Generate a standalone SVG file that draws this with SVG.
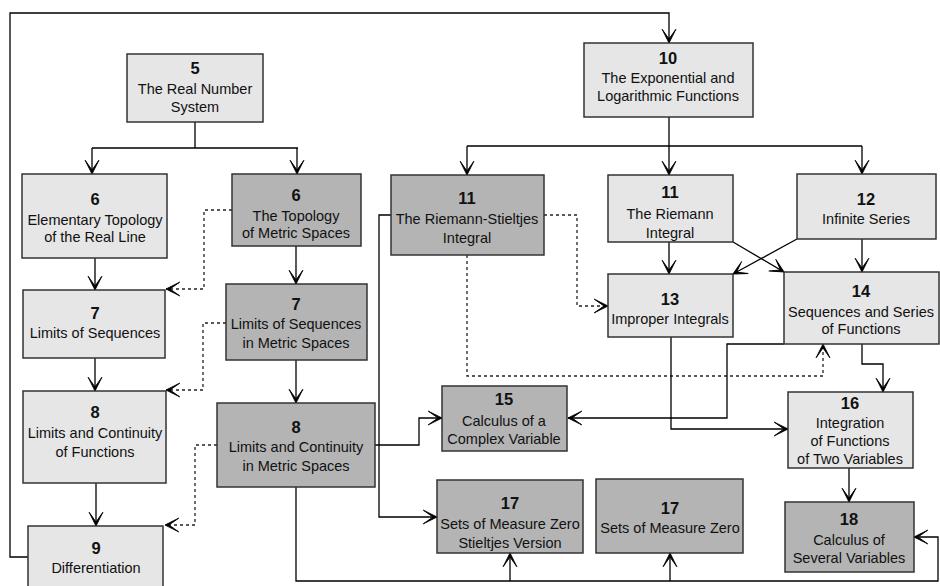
<svg xmlns="http://www.w3.org/2000/svg" width="940" height="586" viewBox="0 0 940 586">
<defs>
<marker id="ar" markerUnits="userSpaceOnUse" markerWidth="16" markerHeight="16" viewBox="-13 -7 14 14" refX="0" refY="0" orient="auto">
<path d="M0,0 L-12,-6 L-3.5,0 L-12,6 Z" fill="#000" stroke="#000" stroke-width="0.8" stroke-linejoin="miter"/>
</marker>
</defs>
<style>
.lt{fill:#e6e6e6;stroke:#333;stroke-width:1.5}
.dk{fill:#b4b4b4;stroke:#333;stroke-width:1.5}
text{font-family:"Liberation Sans",Arial,sans-serif;font-size:14.5px;fill:#111;text-anchor:middle}
.n{font-weight:bold;font-size:16.5px}
.c{fill:none;stroke:#000;stroke-width:1.3}
.d{fill:none;stroke:#222;stroke-width:1.3;stroke-dasharray:3 3}
</style>
<rect width="940" height="586" fill="#fff"/>
<g id="connectors">
<path class="c" d="M195,122 V148 M92,148 H298"/>
<path class="c" d="M92,148 V174" marker-end="url(#ar)"/>
<path class="c" d="M297,148 V174" marker-end="url(#ar)"/>
<path class="c" d="M95,258 V290" marker-end="url(#ar)"/>
<path class="c" d="M296,246 V284" marker-end="url(#ar)"/>
<path class="d" d="M232,210 H204 V289 H166" marker-end="url(#ar)"/>
<path class="c" d="M95,358 V391" marker-end="url(#ar)"/>
<path class="c" d="M296,360 V403" marker-end="url(#ar)"/>
<path class="d" d="M226,323 H203 V390 H166" marker-end="url(#ar)"/>
<path class="c" d="M96,483 V526" marker-end="url(#ar)"/>
<path class="d" d="M217,445 H195 V525 H165" marker-end="url(#ar)"/>
<path class="c" d="M28,557 H10 V13 H669 V43" marker-end="url(#ar)"/>
<path class="c" d="M375,445 H419 V418 H442" marker-end="url(#ar)"/>
<path class="c" d="M296,487 V581 H938 V537 H914" marker-end="url(#ar)"/>
<path class="c" d="M510,581 V553" marker-end="url(#ar)"/>
<path class="c" d="M670,581 V553" marker-end="url(#ar)"/>
<path class="c" d="M669,117 V146 M467,146 H862"/>
<path class="c" d="M467,146 V175" marker-end="url(#ar)"/>
<path class="c" d="M669,146 V175" marker-end="url(#ar)"/>
<path class="c" d="M862,146 V174" marker-end="url(#ar)"/>
<path class="c" d="M391,215 H379 V517 H437" marker-end="url(#ar)"/>
<path class="d" d="M544,215 H577 V306 H608" marker-end="url(#ar)"/>
<path class="d" d="M467,255 V376 H823 V344" marker-end="url(#ar)"/>
<path class="c" d="M669,242 V274" marker-end="url(#ar)"/>
<path class="c" d="M733,242 L784,272" marker-end="url(#ar)"/>
<path class="c" d="M797,239 L733,274" marker-end="url(#ar)"/>
<path class="c" d="M862,239 V272" marker-end="url(#ar)"/>
<path class="c" d="M671,337 V429 H788" marker-end="url(#ar)"/>
<path class="c" d="M784,344 H727 V418 H568" marker-end="url(#ar)"/>
<path class="c" d="M862,344 V364 H883 V392" marker-end="url(#ar)"/>
<path class="c" d="M849,468 V502" marker-end="url(#ar)"/>
</g>
<g id="n5"><rect class="lt" x="127" y="54" width="136" height="68"/><text class="n" x="195" y="74">5</text><text x="195" y="94">The Real Number</text><text x="195" y="112">System</text></g>
<g id="n6a"><rect class="lt" x="22" y="174" width="145" height="84"/><text class="n" x="95" y="205">6</text><text x="95" y="225">Elementary Topology</text><text x="95" y="242">of the Real Line</text></g>
<g id="n6b"><rect class="dk" x="232" y="174" width="129" height="72"/><text class="n" x="296" y="201">6</text><text x="296" y="221">The Topology</text><text x="296" y="238">of Metric Spaces</text></g>
<g id="n7a"><rect class="lt" x="23" y="290" width="142" height="68"/><text class="n" x="95" y="319">7</text><text x="95" y="338">Limits of Sequences</text></g>
<g id="n7b"><rect class="dk" x="226" y="284" width="141" height="76"/><text class="n" x="296" y="310">7</text><text x="296" y="329">Limits of Sequences</text><text x="296" y="348">in Metric Spaces</text></g>
<g id="n8a"><rect class="lt" x="23" y="391" width="143" height="92"/><text class="n" x="95" y="418">8</text><text x="95" y="438">Limits and Continuity</text><text x="95" y="457">of Functions</text></g>
<g id="n8b"><rect class="dk" x="217" y="403" width="158" height="84"/><text class="n" x="296" y="433">8</text><text x="296" y="452">Limits and Continuity</text><text x="296" y="471">in Metric Spaces</text></g>
<g id="n9"><rect class="lt" x="28" y="526" width="135" height="80"/><text class="n" x="96" y="554">9</text><text x="96" y="573">Differentiation</text></g>
<g id="n10"><rect class="lt" x="584" y="43" width="169" height="74"/><text class="n" x="668" y="64">10</text><text x="668" y="83">The Exponential and</text><text x="668" y="101">Logarithmic Functions</text></g>
<g id="n11a"><rect class="dk" x="391" y="175" width="153" height="80"/><text class="n" x="467" y="204">11</text><text x="467" y="224">The Riemann-Stieltjes</text><text x="467" y="243">Integral</text></g>
<g id="n11b"><rect class="lt" x="608" y="175" width="125" height="67"/><text class="n" x="670" y="198">11</text><text x="670" y="219">The Riemann</text><text x="670" y="238">Integral</text></g>
<g id="n12"><rect class="lt" x="797" y="174" width="139" height="65"/><text class="n" x="866" y="205">12</text><text x="866" y="224">Infinite Series</text></g>
<g id="n13"><rect class="lt" x="608" y="274" width="125" height="63"/><text class="n" x="670" y="305">13</text><text x="670" y="324">Improper Integrals</text></g>
<g id="n14"><rect class="lt" x="784" y="272" width="155" height="72"/><text class="n" x="861" y="297">14</text><text x="861" y="317">Sequences and Series</text><text x="861" y="334">of Functions</text></g>
<g id="n15"><rect class="dk" x="442" y="386" width="125" height="65"/><text class="n" x="504" y="405">15</text><text x="504" y="426">Calculus of a</text><text x="504" y="444">Complex Variable</text></g>
<g id="n16"><rect class="lt" x="788" y="392" width="125" height="76"/><text class="n" x="850" y="409">16</text><text x="850" y="428">Integration</text><text x="850" y="446">of Functions</text><text x="850" y="464">of Two Variables</text></g>
<g id="n17a"><rect class="dk" x="437" y="480" width="146" height="73"/><text class="n" x="510" y="509">17</text><text x="510" y="529">Sets of Measure Zero</text><text x="510" y="548">Stieltjes Version</text></g>
<g id="n17b"><rect class="dk" x="596" y="479" width="147" height="74"/><text class="n" x="670" y="514">17</text><text x="670" y="533">Sets of Measure Zero</text></g>
<g id="n18"><rect class="dk" x="785" y="502" width="129" height="70"/><text class="n" x="849" y="525">18</text><text x="849" y="545">Calculus of</text><text x="849" y="563">Several Variables</text></g>
</svg>
